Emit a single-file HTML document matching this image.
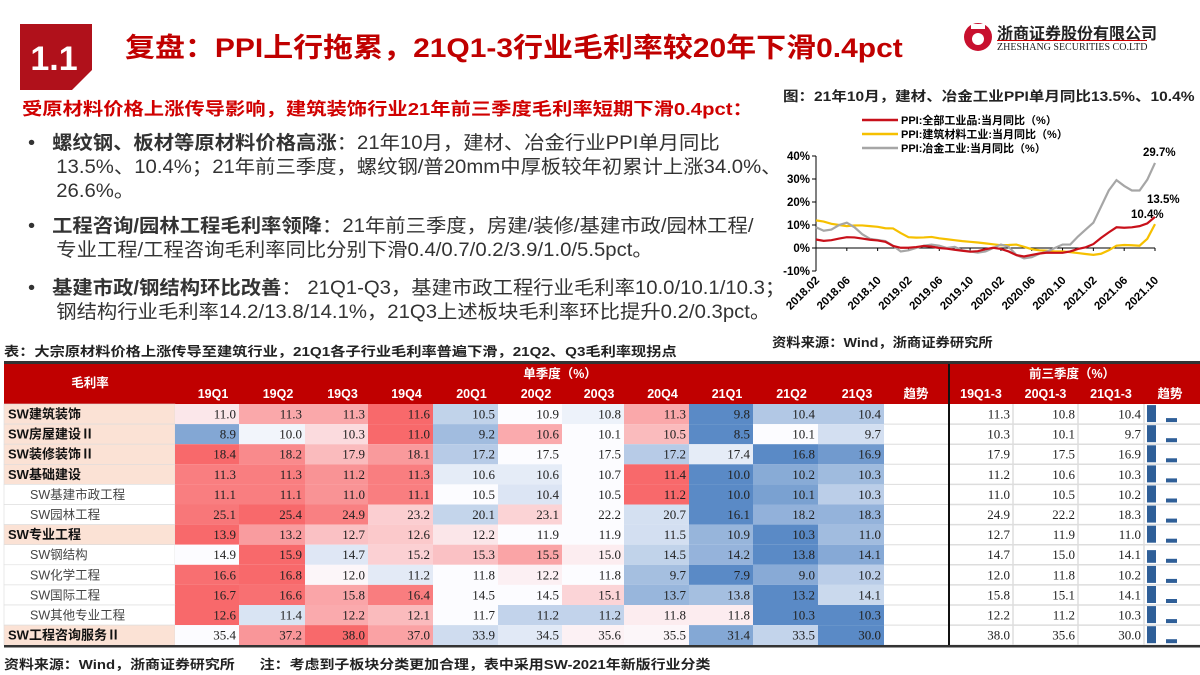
<!DOCTYPE html>
<html><head><meta charset="utf-8">
<style>
*{margin:0;padding:0;box-sizing:border-box}
body{width:1200px;height:675px;background:#fff;position:relative;overflow:hidden;font-family:"Liberation Sans","Noto Sans CJK SC",sans-serif;color:#222}
.abs{position:absolute;white-space:nowrap}
.b{font-weight:bold}
.sx{transform-origin:0 0}
</style></head><body>
<svg class="abs" style="left:20px;top:24px" width="80" height="70"><polygon points="0,0 72,0 72,46 52,66 0,66" fill="#b0111b"/><text x="34" y="46" font-size="34" font-weight="bold" fill="#fff" text-anchor="middle" font-family="Liberation Sans">1.1</text></svg>
<div class="abs b sx" style="left:125px;top:26px;font-size:27px;color:#c00000;transform:scaleX(1.11)">复盘：PPI上行拖累，21Q1-3行业毛利率较20年下滑0.4pct</div>
<svg class="abs" style="left:962px;top:20px" width="32" height="34"><circle cx="16" cy="17" r="14" fill="#c8102e"/><circle cx="16" cy="19" r="6" fill="#fff"/><rect x="9" y="4" width="14" height="5" fill="#fff"/></svg>
<div class="abs b" style="left:997px;top:20px;font-size:16px;color:#222">浙商证券股份有限公司</div>
<div class="abs" style="left:997px;top:40px;font-size:10px;font-family:'Liberation Serif',serif;border-top:1px solid #c00;padding-top:1px">ZHESHANG SECURITIES CO.LTD</div>

<div class="abs b sx" style="left:22px;top:96px;font-size:17.5px;color:#d00000;transform:scaleX(1.16)">受原材料价格上涨传导影响，建筑装饰行业21年前三季度毛利率短期下滑0.4pct：</div>
<div class="abs sx" style="left:28px;top:132px;font-size:19px;line-height:24px;color:#333;transform:scaleX(1.07)">•&nbsp;&nbsp;&nbsp;<b>螺纹钢、板材等原材料价格高涨</b>：21年10月，建材、冶金行业PPI单月同比<br>&nbsp;&nbsp;&nbsp;&nbsp;&nbsp;13.5%、10.4%；21年前三季度，螺纹钢/普20mm中厚板较年初累计上涨34.0%、<br>&nbsp;&nbsp;&nbsp;&nbsp;&nbsp;26.6%。</div>
<div class="abs sx" style="left:28px;top:215px;font-size:19px;line-height:24px;color:#333;transform:scaleX(1.07)">•&nbsp;&nbsp;&nbsp;<b>工程咨询/园林工程毛利率领降</b>：21年前三季度，房建/装修/基建市政/园林工程/<br>&nbsp;&nbsp;&nbsp;&nbsp;&nbsp;专业工程/工程咨询毛利率同比分别下滑0.4/0.7/0.2/3.9/1.0/5.5pct。</div>
<div class="abs sx" style="left:28px;top:277px;font-size:19px;line-height:24px;color:#333;transform:scaleX(1.07)">•&nbsp;&nbsp;&nbsp;<b>基建市政/钢结构环比改善</b>：&nbsp;21Q1-Q3，基建市政工程行业毛利率10.0/10.1/10.3；<br>&nbsp;&nbsp;&nbsp;&nbsp;&nbsp;钢结构行业毛利率14.2/13.8/14.1%，21Q3上述板块毛利率环比提升0.2/0.3pct。</div>

<div class="abs b sx" style="left:783px;top:85px;font-size:13.5px;background:#fff;padding-right:4px;transform:scaleX(1.15)">图：21年10月，建材、冶金工业PPI单月同比13.5%、10.4%</div>
<svg id="chart" class="abs" style="left:770px;top:105px" width="430" height="225"></svg>
<div class="abs b sx" style="left:772px;top:332px;font-size:13px;background:#fff;padding-right:20px;transform:scaleX(1.1)">资料来源：Wind，浙商证券研究所</div>

<div class="abs b sx" style="left:4px;top:341px;font-size:13px;transform:scaleX(1.17)">表：大宗原材料价格上涨传导至建筑行业，21Q1各子行业毛利率普遍下滑，21Q2、Q3毛利率现拐点</div>
<div class="abs" style="left:4px;top:361px;width:1196px;height:3px;background:#333"></div>
<svg id="tbl" class="abs" style="left:0;top:364px" width="1200" height="286"></svg>
<div class="abs b sx" style="left:4px;top:654px;font-size:13px;transform:scaleX(1.15)">资料来源：Wind，浙商证券研究所&nbsp;&nbsp;&nbsp;&nbsp;&nbsp;&nbsp;注：考虑到子板块分类更加合理，表中采用SW-2021年新版行业分类</div>

<script>
const NS='http://www.w3.org/2000/svg';
function mk(p,t,a){const e=document.createElementNS(NS,t);for(const k in a)e.setAttribute(k,a[k]);p.appendChild(e);return e;}
// ---- chart data ----
const months=45;
const xTickLabels=['2018.02','2018.06','2018.10','2019.02','2019.06','2019.10','2020.02','2020.06','2020.10','2021.02','2021.06','2021.10'];
const yTicks=[40,30,20,10,0,-10];
const ppiAll=[3.7,3.1,3.4,4.1,4.7,4.6,4.1,3.6,3.3,2.7,0.9,0.1,0.1,0.4,0.9,0.6,0,-0.3,-0.8,-1.2,-1.6,-1.4,-0.5,0.1,-0.4,-1.5,-3.1,-3.7,-3,-2.4,-2,-2.1,-2.1,-1.5,-0.4,0.3,1.7,4.4,6.8,9,8.8,9,9.5,10.7,13.5];
const ppiBuild=[12,11.5,10.5,10,9.5,9.8,9.8,9.5,9.2,8.6,8.5,6.5,4.7,4.5,4.6,4.8,4.2,3.8,3.4,3,2.7,2.4,2,1.6,1.2,1.3,1.5,0.5,-0.5,-1,-1.2,-1.5,-1.5,-1.8,-2.2,-2.6,-3,-2.5,-1,1,1.3,1.2,1,4,10.4];
const ppiMetal=[9,7.5,8,10,11,9,6,4,3.5,3,1,-1.5,-1,0,1,1.5,1,0,0.5,-1,-1.5,-2,-1.5,0,1.5,0.5,-3,-4.5,-4,-2.5,-1.5,0,1.5,1.5,5,8,11,18,25,29.5,27,25,25,29.7,37];
const seriesNames=['PPI:全部工业品:当月同比（%）','PPI:建筑材料工业:当月同比（%）','PPI:冶金工业:当月同比（%）'];
const endLabels=['13.5%','10.4%','29.7%'];
(function(){
 const s=document.getElementById('chart');
 const X=i=>46+i*(385-46)/(months-1), Y=v=>143-v*2.3;
 const ax=mk(s,'g',{});
 mk(ax,'line',{x1:46,y1:Y(40),x2:46,y2:Y(-10),stroke:'#000','stroke-width':1});
 yTicks.forEach(t=>{mk(ax,'line',{x1:42,x2:46,y1:Y(t),y2:Y(t),stroke:'#000'});const tx=mk(ax,'text',{x:40,y:Y(t)+4,'font-size':11.5,'font-weight':'bold','text-anchor':'end'});tx.textContent=t+'%';});
 const xa=mk(s,'g',{});
 mk(xa,'line',{x1:46,x2:X(months-1),y1:Y(0),y2:Y(0),stroke:'#000'});
 xTickLabels.forEach((l,k)=>{const x=X(k*4);mk(xa,'line',{x1:x,x2:x,y1:Y(0),y2:Y(0)+3,stroke:'#000'});const tx=mk(xa,'text',{x:x+4,y:Y(-10)+10,'font-size':11.5,'font-weight':'bold','text-anchor':'end',transform:`rotate(-45 ${x+4} ${Y(-10)+10})`});tx.textContent=l;});
 const cols=['#c8101a','#f6c000','#a6a6a6'];
 [ppiBuild,ppiMetal,ppiAll].forEach((d,j)=>{const idx=[1,2,0][j];const p=mk(s,'polyline',{points:d.map((v,i)=>X(i)+','+Y(v)).join(' '),fill:'none',stroke:cols[idx],'stroke-width':2.2});
  
  });
 seriesNames.forEach((n,i)=>{const y=15+i*14;mk(s,'line',{x1:92,x2:128,y1:y,y2:y,stroke:cols[i],'stroke-width':2.5});const t=mk(s,'text',{x:131,y:y+4,'font-size':11,'font-weight':'bold'});t.textContent=n;
  
  });
 const lp=[[ppiAll,-8,-8],[ppiBuild,-24,-6],[ppiMetal,-12,-7]];
 lp.forEach((q,i)=>{const last=q[0][months-1];const t=mk(s,'text',{x:X(months-1)+q[1],y:(i==2?Y(last)+q[2]:Y(last)+q[2]+(i==0?-6:0)),'font-size':11.5,'font-weight':'bold'});t.textContent=endLabels[i];
  
  });
})();
// ---- table data ----
const quarters=['19Q1','19Q2','19Q3','19Q4','20Q1','20Q2','20Q3','20Q4','21Q1','21Q2','21Q3'];
const ytdHeads=['19Q1-3','20Q1-3','21Q1-3'];
const rowNames=['SW建筑装饰','SW房屋建设Ⅱ','SW装修装饰Ⅱ','SW基础建设','SW基建市政工程','SW园林工程','SW专业工程','SW钢结构','SW化学工程','SW国际工程','SW其他专业工程','SW工程咨询服务Ⅱ'];
const rowBold=[1,1,1,1,0,0,1,0,0,0,0,1];
const qValues=[
[11.0,11.3,11.3,11.6,10.5,10.9,10.8,11.3,9.8,10.4,10.4],
[8.9,10.0,10.3,11.0,9.2,10.6,10.1,10.5,8.5,10.1,9.7],
[18.4,18.2,17.9,18.1,17.2,17.5,17.5,17.2,17.4,16.8,16.9],
[11.3,11.3,11.2,11.3,10.6,10.6,10.7,11.4,10.0,10.2,10.3],
[11.1,11.1,11.0,11.1,10.5,10.4,10.5,11.2,10.0,10.1,10.3],
[25.1,25.4,24.9,23.2,20.1,23.1,22.2,20.7,16.1,18.2,18.3],
[13.9,13.2,12.7,12.6,12.2,11.9,11.9,11.5,10.9,10.3,11.0],
[14.9,15.9,14.7,15.2,15.3,15.5,15.0,14.5,14.2,13.8,14.1],
[16.6,16.8,12.0,11.2,11.8,12.2,11.8,9.7,7.9,9.0,10.2],
[16.7,16.6,15.8,16.4,14.5,14.5,15.1,13.7,13.8,13.2,14.1],
[12.6,11.4,12.2,12.1,11.7,11.2,11.2,11.8,11.8,10.3,10.3],
[35.4,37.2,38.0,37.0,33.9,34.5,35.6,35.5,31.4,33.5,30.0]];
const ytdValues=[
[11.3,10.8,10.4],[10.3,10.1,9.7],[17.9,17.5,16.9],[11.2,10.6,10.3],[11.0,10.5,10.2],[24.9,22.2,18.3],
[12.7,11.9,11.0],[14.7,15.0,14.1],[12.0,11.8,10.2],[15.8,15.1,14.1],[12.2,11.2,10.3],[38.0,35.6,30.0]];
(function(){
 const s=document.getElementById('tbl');
 const qx=[175,239,305,368,433,498,562,624,689,753,818,884];
 const yx=[949,1013,1078,1144,1199];
 const top=40,rh=20.1;
 mk(s,'rect',{x:4,y:0,width:944,height:top,fill:'#c00000'});
 mk(s,'rect',{x:950,y:0,width:250,height:top,fill:'#c00000'});
 const hd=(x,y,t,n)=>{const e=mk(s,'text',{x,y,'font-size':12.5,'font-weight':'bold',fill:'#fff','text-anchor':'middle'});e.textContent=t;};
 hd(90,23,'毛利率','header-metric');
 hd(560,14,'单季度（%）','header-quarterly');
 hd(1072,14,'前三季度（%）','header-ytd');
 quarters.forEach((q,i)=>hd((qx[i]+qx[i+1])/2+6,34,q,'header-'+q));
 hd(916,34,'趋势','header-trend');
 ytdHeads.forEach((q,i)=>hd((yx[i]+yx[i+1])/2,34,q,'header-'+q));
 hd(1170,34,'趋势','header-trend-ytd');
 const lerp=(a,b,t)=>'rgb('+a.map((v,k)=>Math.round(v+(b[k]-v)*t)).join(',')+')';
 const RED=[248,105,107],BLUE=[90,138,198],W=[252,252,255];
 qValues.forEach((row,r)=>{
  const y=top+r*rh;
  const srt=[...row].sort((a,b)=>a-b),mn=srt[0],mx=srt[10],md=srt[5];
  mk(s,'rect',{x:4,y,width:171,height:rh,fill:rowBold[r]?'#fbe2d5':'#fff',stroke:'#ddd','stroke-width':0.6});
  const lt=mk(s,'text',{x:rowBold[r]?8:30,y:y+14.5,'font-size':rowBold[r]?13:12.5,'font-weight':rowBold[r]?'bold':'normal',fill:rowBold[r]?'#111':'#444'});lt.textContent=rowNames[r];
  
  
  row.forEach((v,i)=>{
   let c= v>=md ? lerp(W,RED,mx>md?(v-md)/(mx-md):0) : lerp(W,BLUE,md>mn?(md-v)/(md-mn):0);
   const cell=mk(s,'rect',{x:qx[i],y,width:qx[i+1]-qx[i],height:rh,fill:c});
   
   
   const t=mk(s,'text',{x:qx[i+1]-3,y:y+14.5,'font-size':13,'text-anchor':'end','font-family':'Liberation Serif',fill:'#222'});t.textContent=v.toFixed(1);
  });
  mk(s,'line',{x1:884,x2:948,y1:y+rh,y2:y+rh,stroke:'#ddd'});
  ytdValues[r].forEach((v,i)=>{const t=mk(s,'text',{x:yx[i+1]-3,y:y+14.5,'font-size':13,'text-anchor':'end','font-family':'Liberation Serif',fill:'#222'});t.textContent=v.toFixed(1);});
  const yv=ytdValues[r],ymn=Math.min(...yv),ymx=Math.max(...yv);
  [0,2].forEach((k,j)=>{const h=4+13*(yv[k]-ymn)/(ymx-ymn);const b=mk(s,'rect',{x:1147+j*19,y:y+rh-2-h,width:j?11:9,height:h,fill:'#2f5f98'});
   
   });
  mk(s,'line',{x1:950,x2:1200,y1:y+rh,y2:y+rh,stroke:'#ddd','stroke-width':1.5});
 });
 for(let i=1;i<yx.length-1;i++)mk(s,'line',{x1:yx[i],x2:yx[i],y1:top,y2:top+12*rh,stroke:'#ddd','stroke-width':1.5});
 mk(s,'line',{x1:949,x2:949,y1:0,y2:top+12*rh+2,stroke:'#111','stroke-width':2});
 mk(s,'line',{x1:4,x2:1200,y1:top+12*rh+1,y2:top+12*rh+1,stroke:'#333','stroke-width':2.5});
})();
</script>
</body></html>
